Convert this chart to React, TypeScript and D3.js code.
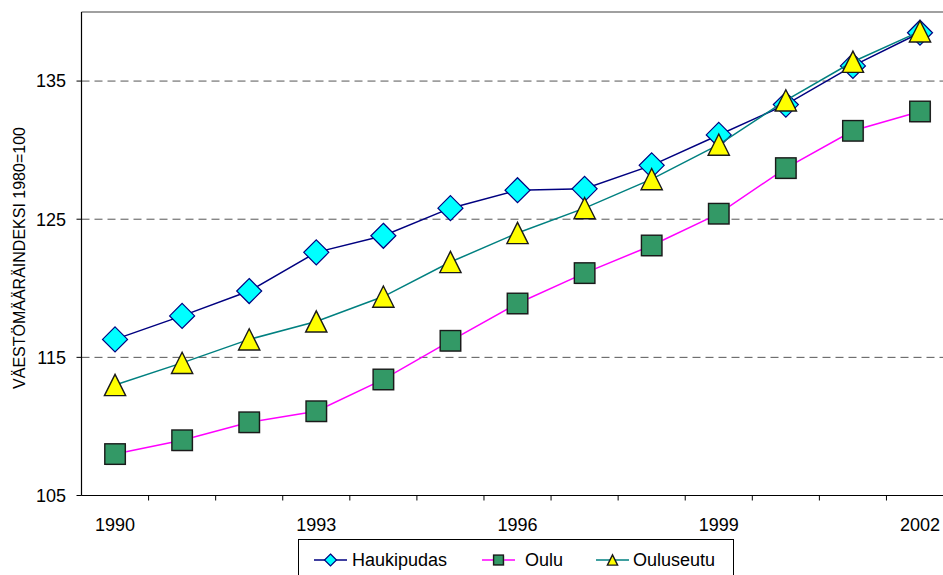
import * as d3 from "d3";
import React from "react";

const years = ["1990", "1991", "1992", "1993", "1994", "1995", "1996", "1997", "1998", "1999", "2000", "2001", "2002"];
const haukipudas = [116.3, 118.0, 119.8, 122.6, 123.8, 125.8, 127.1, 127.2, 128.9, 131.1, 133.3, 136.1, 138.5];
const oulu = [108.0, 109.0, 110.3, 111.1, 113.4, 116.2, 118.9, 121.1, 123.1, 125.4, 128.7, 131.4, 132.8];
const ouluseutu = [113.0, 114.6, 116.3, 117.6, 119.4, 121.9, 124.0, 125.8, 127.9, 130.4, 133.6, 136.4, 138.6];
const yTicks = [105, 115, 125, 135];
const xLabels = ["1990", "1993", "1996", "1999", "2002"];

const series = [
  { name: "Haukipudas", values: haukipudas, line: "#000080", shape: "diamond" },
  { name: "Oulu", values: oulu, line: "#FF00FF", shape: "square" },
  { name: "Ouluseutu", values: ouluseutu, line: "#008080", shape: "triangle" },
];

const FONT = "'Liberation Sans', Arial, sans-serif";

// marker shapes, s = half extent
const Marker = ({ shape, x, y, s }: { shape: string; x: number; y: number; s: number }) => {
  if (shape === "diamond") {
    const p = `${x},${y - s} ${x + s},${y} ${x},${y + s} ${x - s},${y}`;
    return <polygon points={p} fill="#00FFFF" stroke="#000080" strokeWidth={1.2} />;
  }
  if (shape === "square") {
    const h = s * 0.82;
    return (
      <g>
        <rect x={x - h + 1} y={y - h + 1} width={h * 2} height={h * 2} fill="#bbbbbb" opacity={0.6} />
        <rect x={x - h} y={y - h} width={h * 2} height={h * 2} fill="#339966" stroke="#1a1a1a" strokeWidth={1.4} />
      </g>
    );
  }
  const h = s * 0.85;
  const p = `${x},${y - h} ${x + h},${y + h} ${x - h},${y + h}`;
  return <polygon points={p} fill="#FFFF00" stroke="#1a1a1a" strokeWidth={1.4} />;
};

const App: React.FC = () => {
  const width = 943;
  const height = 575;
  const margin = { left: 81.5, top: 12, bottom: 495.5 };
  const step = 67.08;
  const right = margin.left + step * years.length;

  const x = d3.scaleBand().domain(years).range([margin.left, right]);
  const y = d3.scaleLinear().domain([105, 140]).range([margin.bottom, margin.top]);
  const cx = (d: string) => (x(d) || 0) + x.bandwidth() / 2;

  const line = d3
    .line<number>()
    .x((_, i) => cx(years[i]))
    .y((d) => y(d));

  const legendItems = [
    { lx: 314, tx: 352 },
    { lx: 482, tx: 525 },
    { lx: 596, tx: 633 },
  ];

  return (
    <svg
      width={width}
      height={height}
      style={{ position: "absolute", left: 0, top: 0, background: "#fff" }}
      fontFamily={FONT}
    >
      {/* grid */}
      {yTicks.slice(1).map((t) => (
        <line key={t} x1={margin.left} x2={right} y1={y(t)} y2={y(t)} stroke="#555" strokeDasharray="8,5" />
      ))}
      {/* plot border top */}
      <line x1={margin.left} x2={right} y1={margin.top} y2={margin.top} stroke="#808080" strokeWidth={1.5} />
      {/* axes */}
      <line x1={margin.left} x2={margin.left} y1={margin.top} y2={margin.bottom} stroke="#000" strokeWidth={1.2} />
      <line x1={margin.left} x2={right} y1={margin.bottom} y2={margin.bottom} stroke="#000" strokeWidth={1.2} />
      {yTicks.map((t) => (
        <g key={t}>
          <line x1={margin.left - 5} x2={margin.left} y1={y(t)} y2={y(t)} stroke="#000" />
          <text x={66} y={y(t)} dy="0.35em" textAnchor="end" fontSize={18}>
            {t}
          </text>
        </g>
      ))}
      {years.map((d) => (
        <line key={d} x1={(x(d) || 0) + step} x2={(x(d) || 0) + step} y1={margin.bottom} y2={margin.bottom + 5} stroke="#000" />
      ))}
      {xLabels.map((d) => (
        <text key={d} x={cx(d)} y={531} textAnchor="middle" fontSize={18}>
          {d}
        </text>
      ))}
      <text transform={`translate(25,258) rotate(-90)`} textAnchor="middle" fontSize={16}>
        VÄESTÖMÄÄRÄINDEKSI 1980=100
      </text>

      {/* series */}
      {series.map((s) => (
        <g key={s.name}>
          <path d={line(s.values) || ""} fill="none" stroke={s.line} strokeWidth={1.5} />
          {s.values.map((v, i) => (
            <Marker key={i} shape={s.shape} x={cx(years[i])} y={y(v)} s={12.5} />
          ))}
        </g>
      ))}

      {/* legend */}
      <rect x={298.5} y={539.5} width={435} height={60} fill="#fff" stroke="#000" />
      {series.map((s, i) => (
        <g key={s.name}>
          <line x1={legendItems[i].lx} x2={legendItems[i].lx + 33} y1={560} y2={560} stroke={s.line} strokeWidth={1.5} />
          <Marker shape={s.shape} x={legendItems[i].lx + 16.5} y={560} s={6} />
          <text x={legendItems[i].tx} y={560} dy="0.35em" fontSize={18}>
            {s.name}
          </text>
        </g>
      ))}
    </svg>
  );
};

export default App;
